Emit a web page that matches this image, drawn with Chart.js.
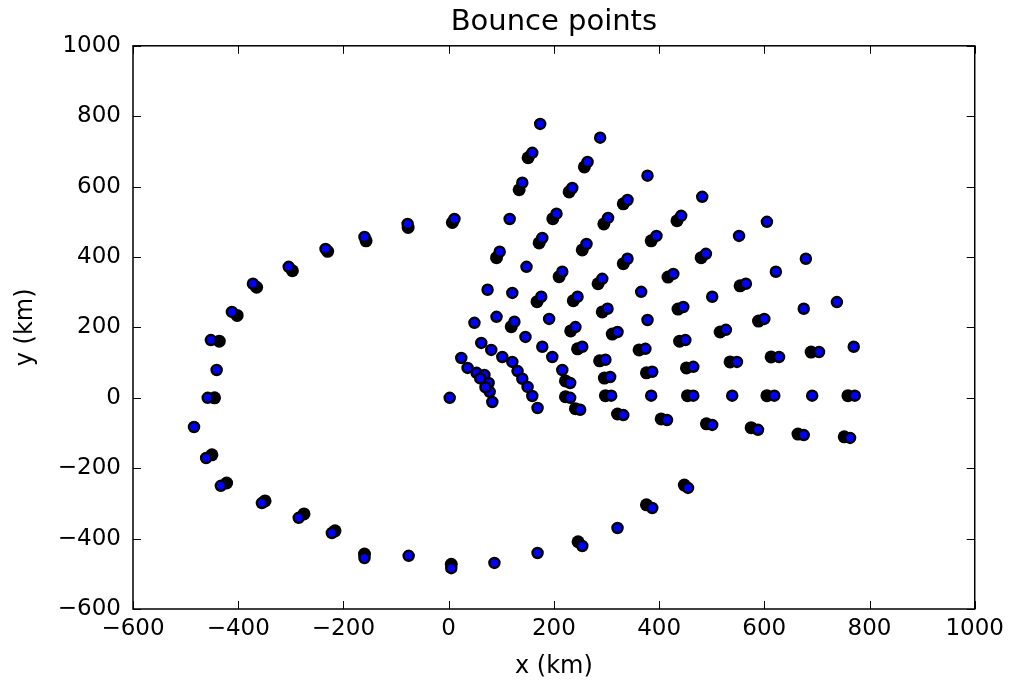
<!DOCTYPE html>
<html lang="en">
<head>
  <meta charset="UTF-8">
  <title>Bounce points</title>
  <script src="https://cdn.jsdelivr.net/npm/chart.js"></script>
  <style>
    body { margin: 0; background: #fff; }
  </style>
</head>
<body>
  <canvas id="bounceChart" width="1010" height="686"></canvas>

  <script>
    // axis ticks
    const xTicks = [-600, -400, -200, 0, 200, 400, 600, 800, 1000];
    const yTicks = [-600, -400, -200, 0, 200, 400, 600, 800, 1000];

    // outer ring of bounce points (km)
    const ringX = [11, -78, -160, -234, -304, -372, -412, -452, -441, -458, -484, -461, -433,
                   -355, -285, -222, -160, -76, 5, 87, 169, 254, 321, 387, 455];
    const ringY = [508, 494, 457, 423, 372, 324, 244, 164, 79, 0, -83, -171, -250,
                   -299, -341, -384, -455, -449, -484, -469, -441, -421, -370, -313, -256];

    // fan of bounce points on the right (km)
    const fanX = [174, 288, 159, 264, 140, 235, 340, 116, 205, 303, 378, 482, 442, 178, 262,
                  395, 552, 605, 97, 148, 216, 292, 340, 489, 622, 679, 74, 121, 176, 245,
                  366, 427, 501, 565, 738, 49, 91, 125, 191, 241, 302, 321, 378, 446, 527,
                  600, 675, 24, 62, 81, 102, 121, 131, 140, 150, 159, 169, 146, 178, 197,
                  216, 231, 231, 250, 254, 298, 307, 309, 332, 374, 387, 385, 415, 450, 465,
                  465, 501, 548, 539, 588, 628, 619, 675, 704, 691, 763, 770, 772, 2, 36,
                  53, 68, 76, 78, 83, 60, 70];
    const fanY = [778, 739, 696, 670, 611, 596, 562, 508, 523, 511, 631, 571, 517, 454, 437,
                  460, 460, 500, 415, 372, 358, 338, 395, 409, 358, 395, 307, 298, 287, 287,
                  301, 352, 287, 324, 272, 213, 230, 216, 224, 201, 253, 187, 221, 258, 193,
                  224, 253, 113, 156, 136, 116, 102, 76, 54, 31, 5, -29, 173, 145, 116,
                  79, 42, 0, -34, 145, 108, 59, 6, -49, 139, 74, 6, -63, 164, 88,
                  6, -77, 102, 6, -91, 116, 6, -106, 130, 6, -114, 145, 6, 0, 85,
                  71, 65, 42, 17, -12, 55, 30];

    // second, partly hidden marker of the doubled points (km)
    const shadowX = [7, -77, -157, -230, -297, -365, -402, -436, -445, -450, -422, -349, -275,
                     -216, -160, 5, 246, 376, 448,
                     151, 258, 134, 229, 332, 198, 295, 434, 172, 254, 385, 91, 210, 284,
                     332, 480, 168, 237, 417, 554, 119, 232, 292, 311, 436, 516, 589, 245,
                     287, 296, 362, 376, 439, 452, 535, 613, 689, 298, 454, 605, 759, 321,
                     404, 490, 575, 664, 752, 241, 222, 222];
    const shadowY = [498, 484, 446, 416, 361, 314, 234, 161, 0, -162, -242, -293, -330,
                     -378, -444, -473, -409, -304, -248,
                     682, 656, 591, 585, 551, 509, 494, 503, 440, 420, 446, 398, 344, 324,
                     381, 398, 273, 276, 343, 318, 202, 190, 244, 181, 252, 187, 218, 139,
                     105, 56, 136, 71, 161, 85, 102, 116, 130, 6, 6, 6, 6, -46,
                     -60, -74, -85, -103, -111, -31, 3, 48];

    const toPoints = (xs, ys) => xs.map((x, i) => ({ x: x, y: ys[i] }));
    const bluePoints = toPoints(ringX, ringY).concat(toPoints(fanX, fanY));
    const shadowPoints = toPoints(shadowX, shadowY);

    const minusSign = v => String(v).replace('-', '\u2212');

    // matplotlib style frame with inward ticks on all four sides
    const frameTicks = {
      id: 'frameTicks',
      afterDatasetsDraw(chart) {
        const { ctx, chartArea: a, scales: { x, y } } = chart;
        const len = 8;
        ctx.save();
        ctx.strokeStyle = '#000';
        ctx.lineWidth = 1;
        ctx.beginPath();
        xTicks.forEach(v => {
          const px = Math.round(x.getPixelForValue(v)) + 0.5;
          ctx.moveTo(px, a.bottom); ctx.lineTo(px, a.bottom - len);
          ctx.moveTo(px, a.top); ctx.lineTo(px, a.top + len);
        });
        yTicks.forEach(v => {
          const py = Math.round(y.getPixelForValue(v)) + 0.5;
          ctx.moveTo(a.left, py); ctx.lineTo(a.left + len, py);
          ctx.moveTo(a.right, py); ctx.lineTo(a.right - len, py);
        });
        ctx.stroke();
        ctx.lineWidth = 1.5;
        ctx.strokeRect(a.left, a.top, a.right - a.left, a.bottom - a.top);
        ctx.restore();
      }
    };

    const ctx = document.getElementById('bounceChart').getContext('2d');
    new Chart(ctx, {
      type: 'scatter',
      data: {
        datasets: [
          {
            label: 'bounce',
            data: bluePoints,
            order: 1,
            pointRadius: 5,
            pointBorderWidth: 2.5,
            pointBackgroundColor: '#0000ff',
            pointBorderColor: '#000000'
          },
          {
            label: 'bounce (doubled)',
            data: shadowPoints,
            order: 2,
            pointRadius: 6.5,
            pointBorderWidth: 0,
            pointBackgroundColor: '#000000',
            pointBorderColor: '#000000'
          }
        ]
      },
      options: {
        responsive: false,
        animation: false,
        layout: { padding: { left: 0, right: 34, top: 0, bottom: 0 } },
        plugins: {
          legend: { display: false },
          tooltip: { enabled: false },
          title: {
            display: true,
            text: 'Bounce points',
            fullSize: false,
            color: '#000',
            font: { family: 'DejaVu Sans', size: 29, weight: 'normal' },
            padding: { top: 5, bottom: 6 }
          }
        },
        scales: {
          x: {
            type: 'linear',
            min: -600,
            max: 1000,
            afterFit: s => { s.height = 77; },
            afterBuildTicks: s => { s.ticks = xTicks.map(v => ({ value: v })); },
            grid: { display: false, drawTicks: false },
            border: { display: false },
            ticks: {
              color: '#000',
              padding: 6,
              maxRotation: 0,
              font: { family: 'DejaVu Sans', size: 23 },
              callback: minusSign
            },
            title: {
              display: true,
              text: 'x (km)',
              color: '#000',
              font: { family: 'DejaVu Sans', size: 24 },
              padding: { top: 0, bottom: 5 }
            }
          },
          y: {
            type: 'linear',
            min: -600,
            max: 1000,
            afterFit: s => { s.width = 133; },
            afterBuildTicks: s => { s.ticks = yTicks.map(v => ({ value: v })); },
            grid: { display: false, drawTicks: false },
            border: { display: false },
            ticks: {
              color: '#000',
              padding: 12,
              font: { family: 'DejaVu Sans', size: 23 },
              callback: minusSign
            },
            title: {
              display: true,
              text: 'y (km)',
              color: '#000',
              font: { family: 'DejaVu Sans', size: 24 },
              padding: { top: 11, bottom: 0 }
            }
          }
        }
      },
      plugins: [frameTicks]
    });
  </script>
</body>
</html>
